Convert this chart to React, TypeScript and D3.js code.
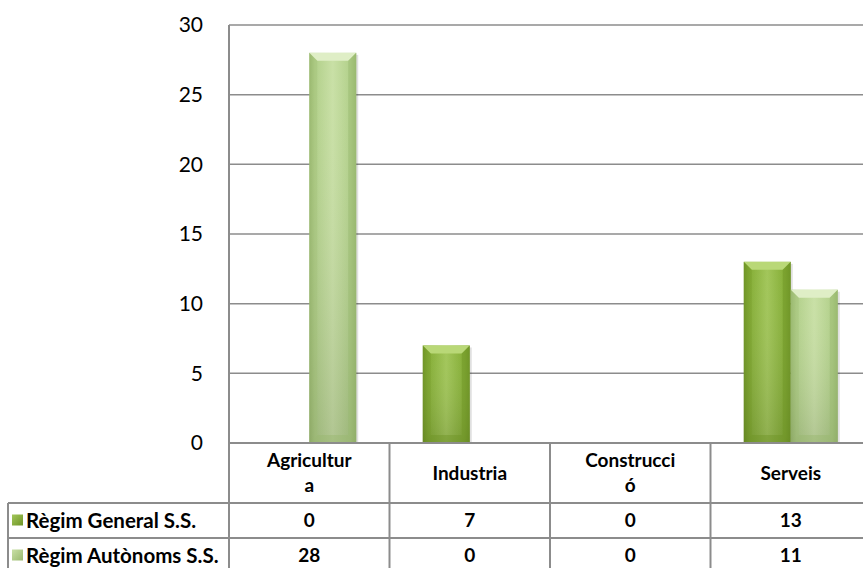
import * as d3 from "d3";

const categories = ["Agricultura", "Industria", "Construcció", "Serveis"];
const headerLines = [["Agricultur", "a"], ["Industria"], ["Construcci", "ó"], ["Serveis"]];
const seriesNames = ["Règim General S.S.", "Règim Autònoms S.S."];
const general = [0, 7, 0, 13];
const autonoms = [28, 0, 0, 11];
const yTicks = [0, 5, 10, 15, 20, 25, 30];

const W = 863;
const H = 568;
const left = 229;
const right = 871;
const top = 25;
const base = 443;
const row1 = 503;
const row2 = 538;
const row3 = 573;
const tableLeft = 8;
const font = "Lato, 'Open Sans', sans-serif";

const palette = [
  { dark: "#6f9526", mid: "#84ad35", light: "#a2c65a", top: "#b9d877" },
  { dark: "#9ab96f", mid: "#b2d08a", light: "#c9e0a6", top: "#dfeec6" },
];

export default function App() {
  const x = d3.scaleBand<string>().domain(categories).range([left, right]).paddingInner(0).paddingOuter(0);
  const inner = d3.scaleBand<string>().domain(seriesNames).range([0, 94]);
  const offset = (x.bandwidth() - 94) / 2;
  const y = d3.scaleLinear().domain([0, 30]).range([base, top]);
  const series = [general, autonoms];
  const grid = "#8c8c8c";

  return (
    <svg width={W} height={H} style={{ position: "absolute", left: 0, top: 0 }}>
      <defs>
        {palette.map((p, i) => (
          <linearGradient key={i} id={`g${i}`} x1="0" x2="1" y1="0" y2="0">
            <stop offset="0" stopColor={p.dark} />
            <stop offset="0.12" stopColor={p.mid} />
            <stop offset="0.5" stopColor={p.light} />
            <stop offset="0.88" stopColor={p.mid} />
            <stop offset="1" stopColor={p.dark} />
          </linearGradient>
        ))}
        {palette.map((p, i) => (
          <linearGradient key={i} id={`v${i}`} x1="0" x2="0" y1="0" y2="1">
            <stop offset="0" stopColor="#ffffff" stopOpacity="0" />
            <stop offset="1" stopColor="#000000" stopOpacity="0.12" />
          </linearGradient>
        ))}
        {palette.map((p, i) => (
          <linearGradient key={i} id={`k${i}`} x1="0" x2="1" y1="0" y2="1">
            <stop offset="0" stopColor={p.light} />
            <stop offset="1" stopColor={p.dark} />
          </linearGradient>
        ))}
      </defs>

      {yTicks.map((t) => (
        <g key={t}>
          {t > 0 && <line x1={left} x2={W} y1={y(t)} y2={y(t)} stroke={grid} strokeWidth={1.5} />}
          <text x={203} y={y(t)} dy="0.35em" textAnchor="end" fontFamily={font} fontSize={21} fill="#000">
            {t}
          </text>
        </g>
      ))}

      {categories.map((c, ci) =>
        series.map((vals, si) => {
          const v = vals[ci];
          if (v <= 0) return null;
          const x0 = (x(c) as number) + offset + (inner(seriesNames[si]) as number);
          const w = inner.bandwidth();
          const y0 = y(v);
          const h = base - y0;
          const b = 8;
          const p = palette[si];
          return (
            <g key={`${c}-${si}`}>
              <rect x={x0 + 2} y={y0 + 2} width={w} height={h - 2} fill="#000" opacity={0.12} />
              <rect x={x0} y={y0} width={w} height={h} fill={`url(#g${si})`} />
              <rect x={x0} y={y0} width={w} height={h} fill={`url(#v${si})`} />
              <path d={`M${x0},${y0}L${x0 + w},${y0}L${x0 + w - b},${y0 + b}L${x0 + b},${y0 + b}Z`} fill={p.top} />
              <path d={`M${x0},${y0}L${x0 + b},${y0 + b}L${x0 + b},${base - b}L${x0},${base}Z`} fill={p.dark} opacity={0.3} />
              <path d={`M${x0 + w},${y0}L${x0 + w - b},${y0 + b}L${x0 + w - b},${base - b}L${x0 + w},${base}Z`} fill={p.dark} opacity={0.5} />
              <path d={`M${x0},${base}L${x0 + b},${base - b}L${x0 + w - b},${base - b}L${x0 + w},${base}Z`} fill={p.dark} opacity={0.45} />
            </g>
          );
        })
      )}

      {/* table */}
      <line x1={left} x2={W} y1={base} y2={base} stroke={grid} strokeWidth={2} />
      <line x1={tableLeft} x2={W} y1={row1} y2={row1} stroke={grid} strokeWidth={2} />
      <line x1={tableLeft} x2={W} y1={row2} y2={row2} stroke={grid} strokeWidth={2} />
      <line x1={tableLeft} x2={tableLeft} y1={row1} y2={H} stroke={grid} strokeWidth={2} />
      <line x1={left} x2={left} y1={top} y2={H} stroke={grid} strokeWidth={2} />
      {categories.slice(1).map((c) => (
        <line key={c} x1={x(c) as number} x2={x(c) as number} y1={base} y2={H} stroke={grid} strokeWidth={2} />
      ))}

      {categories.map((c, ci) => {
        const cx = (x(c) as number) + x.bandwidth() / 2;
        const lines = headerLines[ci];
        const mid = (base + row1) / 2;
        const startY = mid - ((lines.length - 1) * 25) / 2;
        return (
          <g key={c} fontFamily={font} fontWeight="bold" fontSize={19} textAnchor="middle" fill="#000">
            {lines.map((l, li) => (
              <text key={li} x={cx} y={startY + li * 25} dy="0.35em">
                {l}
              </text>
            ))}
            <text x={cx} y={(row1 + row2) / 2} dy="0.35em">{general[ci]}</text>
            <text x={cx} y={(row2 + row3) / 2} dy="0.35em">{autonoms[ci]}</text>
          </g>
        );
      })}

      {seriesNames.map((s, si) => {
        const yy = si === 0 ? (row1 + row2) / 2 : (row2 + row3) / 2;
        return (
          <g key={s}>
            <rect x={12} y={yy - 6} width={11} height={11} fill={`url(#k${si})`} />
            <text x={26} y={yy} dy="0.35em" fontFamily={font} fontWeight="bold" fontSize={20.5} fill="#000">
              {s}
            </text>
          </g>
        );
      })}
    </svg>
  );
}
